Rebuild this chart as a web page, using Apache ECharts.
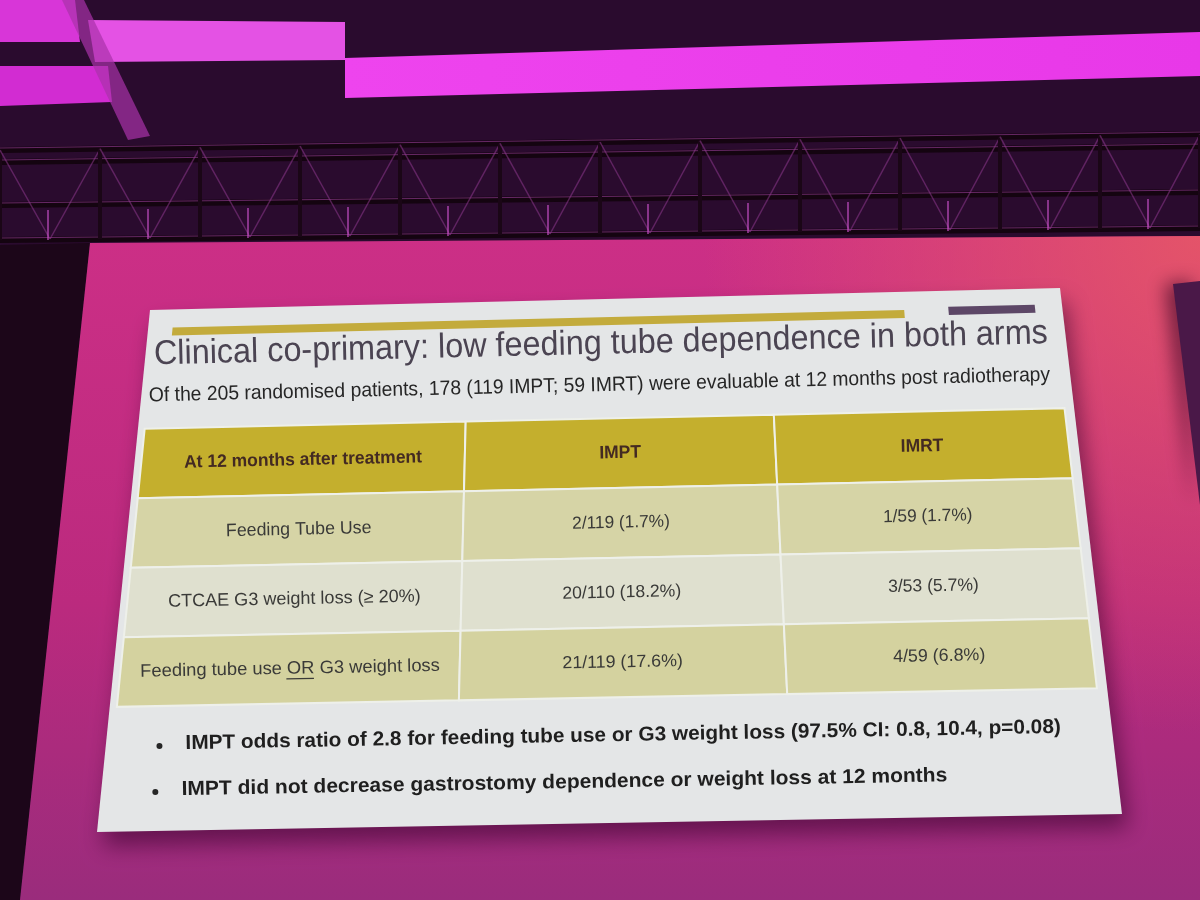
<!DOCTYPE html>
<html>
<head>
<meta charset="utf-8">
<title>Clinical co-primary: low feeding tube dependence</title>
<script src="https://cdn.jsdelivr.net/npm/echarts@6/dist/echarts.min.js"></script>
<style>
  html, body { margin: 0; padding: 0; background: #2a0b2e; }
  #main { width: 1200px; height: 900px; }
</style>
</head>
<body>
<div id="main"></div>
<script>
// table content
const columns = ['At 12 months after treatment', 'IMPT', 'IMRT'];
const outcomes = ['Feeding Tube Use', 'CTCAE G3 weight loss (\u2265 20%)', 'Feeding tube use OR G3 weight loss'];
const imptEvents = [2, 20, 21];
const imptTotals = [119, 110, 119];
const imptPct = [1.7, 18.2, 17.6];
const imrtEvents = [1, 3, 4];
const imrtTotals = [59, 53, 59];
const imrtPct = [1.7, 5.7, 6.8];

const titleText = 'Clinical co-primary: low feeding tube dependence in both arms';
const subtitleText = 'Of the 205 randomised patients, 178 (119 IMPT; 59 IMRT) were evaluable at 12 months post radiotherapy';
const bullets = [
  'IMPT odds ratio of 2.8 for feeding tube use or G3 weight loss (97.5% CI: 0.8, 10.4, p=0.08)',
  'IMPT did not decrease gastrostomy dependence or weight loss at 12 months'
];
const underlinedWord = 'OR';

const FONT = '"Liberation Sans", Arial, sans-serif'
const rowFill = ['#d6d4a6', '#dfe0cf', '#d4d29f']
const colShare = [0.349, 0.335, 0.316]   // the label column is a bit wider on the slide

// the slide is laid out flat (SX,SY,SW,SH) then mapped onto the
// skewed quad where the photo shows the screen
const SX = 120, SY = 300, SW = 972, SH = 522
const quad = [[150, 310], [1060, 288], [1122, 814], [97, 832]]

function project(X, Y) {
  var u = (X - SX) / SW, v = (Y - SY) / SH
  var tx = quad[0][0] + (quad[1][0] - quad[0][0]) * u
  var ty = quad[0][1] + (quad[1][1] - quad[0][1]) * u
  var bx = quad[3][0] + (quad[2][0] - quad[3][0]) * u
  var by = quad[3][1] + (quad[2][1] - quad[3][1]) * u
  return [tx + (bx - tx) * v, ty + (by - ty) * v]
}
function projRect(x, y, w, h) {
  return [project(x, y), project(x + w, y), project(x + w, y + h), project(x, y + h)]
}
// put a text (or any element) at flat point X,Y, turned and scaled like the screen there
function placeAt(el, X, Y) {
  var p = project(X, Y), px = project(X + 1, Y), py = project(X, Y + 1)
  el.x = p[0]
  el.y = p[1]
  el.rotation = -Math.atan2(px[1] - p[1], px[0] - p[0])
  el.scaleX = Math.hypot(px[0] - p[0], px[1] - p[1])
  el.scaleY = Math.hypot(py[0] - p[0], py[1] - p[1])
  return el
}

var rowKeys = ['head'].concat(outcomes)
var cells = []
columns.forEach(function (c, i) { cells.push([i, 0, c]) })
outcomes.forEach(function (o, r) {
  cells.push([0, r + 1, o])
  cells.push([1, r + 1, imptEvents[r] + '/' + imptTotals[r] + ' (' + imptPct[r].toFixed(1) + '%)'])
  cells.push([2, r + 1, imrtEvents[r] + '/' + imrtTotals[r] + ' (' + imrtPct[r].toFixed(1) + '%)'])
})

// canvas for measuring text, needed to place the underline under "OR"
var measureCtx = document.createElement('canvas').getContext('2d')
function textWidth(str, font) {
  measureCtx.font = font
  return measureCtx.measureText(str).width
}

function renderCell(params, api) {
  var c = api.value(0), r = api.value(1)
  var text = cells[params.dataIndex][2]
  var center = api.coord([c, r])
  var size = api.size([1, 1])
  var h = size[1]
  // spread the three bands over the same table width, unevenly
  var tableLeft = api.coord([0, r])[0] - size[0] / 2
  var tableW = size[0] * columns.length
  var before = 0
  for (var i = 0; i < c; i++) before += colShare[i]
  var x = tableLeft + tableW * before
  var w = tableW * colShare[c]
  var cx = x + w / 2
  var head = r === 0
  var fontSize = head ? 18 : (c === 0 ? 18 : 17.5)
  var fontWeight = head ? 'bold' : 'normal'
  var children = [{
    type: 'polygon',
    shape: { points: projRect(x, center[1] - h / 2, w, h) },
    style: { fill: head ? '#c4af2d' : rowFill[r - 1], stroke: '#eef0ea', lineWidth: 2 }
  }, placeAt({
    type: 'text',
    style: {
      text: text,
      fontSize: fontSize,
      fontWeight: fontWeight,
      fontFamily: FONT,
      fill: head ? '#432a22' : '#3a3a38',
      align: 'center',
      verticalAlign: 'middle'
    }
  }, cx, center[1])]
  var k = text.indexOf(' ' + underlinedWord + ' ')
  if (c === 0 && k >= 0) {
    var font = fontWeight + ' ' + fontSize + 'px ' + FONT
    var full = textWidth(text, font)
    var x0 = cx - full / 2 + textWidth(text.slice(0, k + 1), font)
    var x1 = x0 + textWidth(underlinedWord, font)
    var a = project(x0, center[1] + 10), b = project(x1, center[1] + 10)
    children.push({
      type: 'line',
      shape: { x1: a[0], y1: a[1], x2: b[0], y2: b[1] },
      style: { stroke: '#3a3a38', lineWidth: 1.3 }
    })
  }
  return { type: 'group', children: children }
}

// stage scenery: ceiling lights, truss and projection screen
var scenery = [
  { type: 'rect', z: 0, shape: { x: 0, y: 0, width: 1200, height: 900 }, style: { fill: '#2a0b2e' } },
  { type: 'polygon', z: 0, shape: { points: [[0, 0], [75, 0], [80, 42], [0, 42]] }, style: { fill: '#d836d8' } },
  { type: 'polygon', z: 0, shape: { points: [[88, 20], [345, 22], [345, 60], [95, 62]] }, style: { fill: '#e452e4' } },
  { type: 'polygon', z: 0, shape: { points: [[0, 66], [108, 66], [112, 102], [0, 106]] }, style: { fill: '#d22cd2' } },
  { type: 'polygon', z: 0, shape: { points: [[345, 58], [1200, 32], [1200, 76], [345, 98]] },
    style: { fill: new echarts.graphic.LinearGradient(0, 0, 1, 0, [
      { offset: 0, color: '#ee44ee' }, { offset: 1, color: '#e838e8' }]) } },
  { type: 'polygon', z: 0, shape: { points: [[62, 0], [84, 0], [150, 136], [128, 140]] }, style: { fill: 'rgba(170,50,170,0.7)' } },
  { type: 'polygon', z: 0, shape: { points: [[0, 245], [90, 243], [20, 900], [0, 900]] }, style: { fill: '#1c0619' } },
  { type: 'polygon', z: 0, shape: { points: [[90, 243], [1200, 236], [1200, 900], [20, 900]] },
    style: { fill: new echarts.graphic.LinearGradient(0, 0, 0, 1, [
      { offset: 0, color: '#cc2f86' }, { offset: 0.55, color: '#bb2a7e' }, { offset: 1, color: '#9a2c7c' }]) } },
  { type: 'polygon', z: 0, shape: { points: [[90, 243], [1200, 236], [1200, 900], [20, 900]] },
    style: { fill: new echarts.graphic.RadialGradient(1, 0, 0.75, [
      { offset: 0, color: 'rgba(232,90,100,0.85)' }, { offset: 1, color: 'rgba(232,90,100,0)' }]) } },
  { type: 'polygon', z: 0, shape: { points: [[1173, 284], [1200, 281], [1200, 505]] },
    style: { fill: '#4a1848', shadowBlur: 18, shadowColor: 'rgba(40,0,30,0.6)', shadowOffsetX: -8 } }
]
// truss chords and braces
var chords = [[150, 134], [162, 146], [205, 192], [240, 228]]
chords.forEach(function (ch) {
  scenery.push({ type: 'line', z: 0, shape: { x1: 0, y1: ch[0], x2: 1200, y2: ch[1] }, style: { stroke: '#140410', lineWidth: 6 } })
  scenery.push({ type: 'line', z: 0, shape: { x1: 0, y1: ch[0] - 2, x2: 1200, y2: ch[1] - 2 }, style: { stroke: 'rgba(170,70,170,0.55)', lineWidth: 1 } })
})
for (var px = 0; px <= 1200; px += 100) {
  var t = px / 1200
  var yTop = 150 - 16 * t, yBot = 240 - 12 * t
  scenery.push({ type: 'line', z: 0, shape: { x1: px, y1: yTop, x2: px, y2: yBot }, style: { stroke: '#1a0616', lineWidth: 4 } })
  scenery.push({ type: 'line', z: 0, shape: { x1: px, y1: yTop, x2: px + 50, y2: yBot - 1 }, style: { stroke: 'rgba(150,60,150,0.5)', lineWidth: 1.5 } })
  scenery.push({ type: 'line', z: 0, shape: { x1: px + 50, y1: yBot - 1, x2: px + 100, y2: yTop - 1 }, style: { stroke: 'rgba(150,60,150,0.5)', lineWidth: 1.5 } })
  scenery.push({ type: 'line', z: 0, shape: { x1: px + 48, y1: yBot - 30, x2: px + 48, y2: yBot }, style: { stroke: 'rgba(200,80,200,0.6)', lineWidth: 2 } })
}

// slide body, title, subtitle and bullet points
var slide = [
  { type: 'polygon', z: 1, shape: { points: projRect(SX, SY, SW, SH) },
    style: { fill: '#e4e6e7', shadowBlur: 22, shadowColor: 'rgba(50,0,40,0.55)', shadowOffsetX: 6, shadowOffsetY: 14 } },
  { type: 'polygon', z: 3, shape: { points: projRect(146, 318, 778, 8) }, style: { fill: '#c3ab3c' } },
  { type: 'polygon', z: 3, shape: { points: projRect(971, 316, 92, 8) }, style: { fill: '#5d4767' } },
  placeAt({ type: 'text', z: 3,
    style: { text: titleText, fontSize: 34.2, fontFamily: FONT, fill: '#4b4452', verticalAlign: 'middle' } }, 129, 345),
  placeAt({ type: 'text', z: 3,
    style: { text: subtitleText, fontSize: 20.2, fontFamily: FONT, fill: '#262626', verticalAlign: 'middle' } }, 128, 386)
]
bullets.forEach(function (b, i) {
  var by = 735 + i * 46
  var dot = project(172, by + 2)
  slide.push({ type: 'circle', z: 3, shape: { cx: dot[0], cy: dot[1], r: 3 }, style: { fill: '#262626' } })
  slide.push(placeAt({ type: 'text', z: 3,
    style: { text: b, fontSize: 20.1, fontWeight: 'bold', fontFamily: FONT, fill: '#1f1f1f', verticalAlign: 'middle' } }, 197, by))
})

var myChart = echarts.init(document.getElementById('main'))
var option = {
  animation: false,
  graphic: { elements: scenery.concat(slide) },
  grid: { left: 127, right: 118, top: 419, bottom: 203 },
  xAxis: { type: 'category', data: columns, show: false },
  yAxis: { type: 'category', data: rowKeys, inverse: true, show: false },
  series: [{
    type: 'custom',
    z: 2,
    clip: false,
    renderItem: renderCell,
    data: cells.map(function (d) { return [d[0], d[1]] })
  }]
}
myChart.setOption(option)
</script>
</body>
</html>
